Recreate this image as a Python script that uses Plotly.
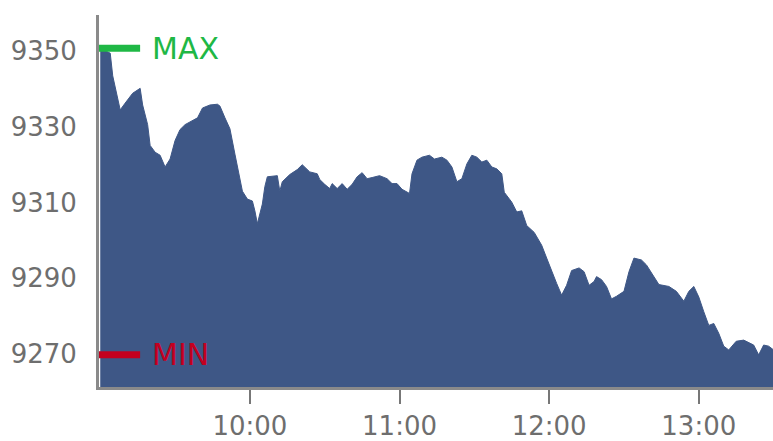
import plotly.graph_objects as go

# Intraday index level
times = [
    "09:00", "09:04", "09:05", "09:07", "09:08", "09:10", "09:13", "09:16", "09:17", "09:19",
    "09:20", "09:22", "09:24", "09:26", "09:28", "09:30", "09:32", "09:34", "09:37", "09:39",
    "09:41", "09:44", "09:47", "09:48", "09:50", "09:52", "09:54", "09:56", "09:57", "09:59",
    "10:01", "10:02", "10:03", "10:05", "10:06", "10:07", "10:11", "10:12", "10:13", "10:16",
    "10:19", "10:21", "10:22", "10:24", "10:27", "10:28", "10:30", "10:32", "10:33", "10:35",
    "10:37", "10:39", "10:41", "10:43", "10:45", "10:47", "10:49", "10:52", "10:55", "10:57",
    "10:59", "11:01", "11:04", "11:05", "11:07", "11:09", "11:12", "11:14", "11:17", "11:19",
    "11:21", "11:23", "11:25", "11:27", "11:29", "11:31", "11:33", "11:35", "11:37", "11:39",
    "11:41", "11:42", "11:45", "11:47", "11:49", "11:51", "11:54", "11:57", "11:59", "12:01",
    "12:03", "12:05", "12:07", "12:09", "12:12", "12:14", "12:16", "12:18", "12:19", "12:21",
    "12:23", "12:25", "12:27", "12:30", "12:32", "12:34", "12:37", "12:39", "12:42", "12:44",
    "12:48", "12:51", "12:54", "12:56", "12:58", "13:00", "13:02", "13:04", "13:06", "13:08",
    "13:10", "13:12", "13:15", "13:18", "13:22", "13:24", "13:26", "13:28", "13:30",
]
levels = [
    9350.8, 9349.5, 9343.5, 9337.6, 9334.5, 9336.3, 9338.9, 9340.2, 9335.8, 9330.6,
    9325.1, 9323.3, 9322.5, 9319.4, 9321.5, 9326.4, 9329.3, 9330.6, 9331.6, 9332.4,
    9335.0, 9335.8, 9336.0, 9335.5, 9332.4, 9329.5, 9322.8, 9316.8, 9313.0, 9310.9,
    9310.4, 9307.8, 9304.4, 9309.6, 9314.2, 9316.8, 9317.1, 9313.0, 9315.5, 9317.4,
    9318.7, 9320.0, 9319.4, 9318.1, 9317.6, 9316.1, 9314.8, 9313.7, 9315.0, 9313.7,
    9315.0, 9313.5, 9314.8, 9316.8, 9317.9, 9316.3, 9316.6, 9317.1, 9316.3, 9315.0,
    9315.0, 9313.5, 9312.4, 9317.6, 9321.2, 9322.0, 9322.5, 9321.5, 9322.0, 9321.2,
    9319.4, 9315.5, 9316.3, 9320.2, 9322.5, 9322.0, 9320.7, 9321.2, 9319.4, 9318.9,
    9317.6, 9312.7, 9310.1, 9307.5, 9307.8, 9303.9, 9302.1, 9298.7, 9295.3, 9291.7,
    9288.6, 9285.5, 9288.1, 9292.0, 9292.7, 9291.7, 9288.1, 9289.1, 9290.4, 9289.6,
    9287.8, 9284.5, 9285.2, 9286.5, 9291.7, 9295.3, 9294.8, 9293.5, 9290.2, 9288.3,
    9287.8, 9286.5, 9283.9, 9286.5, 9287.8, 9285.0, 9281.1, 9277.5, 9278.0, 9275.4,
    9272.0, 9271.0, 9273.3, 9273.6, 9272.3, 9269.7, 9272.3, 9272.0, 9271.0,
]
y_ticks = [9270, 9290, 9310, 9330, 9350]
x_ticks = ["10:00", "11:00", "12:00", "13:00"]

day = "2024-01-02 "
x_vals = [day + t for t in times]

max_level = max(levels)
min_level = min(levels)

fig = go.Figure()
fig.add_trace(
    go.Scatter(
        x=x_vals,
        y=levels,
        mode="lines",
        fill="tozeroy",
        fillcolor="#3e5786",
        line=dict(color="#3e5786", width=1),
        hoverinfo="skip",
    )
)

# MAX / MIN markers
for level, color, label in [
    (max_level, "#1fb845", "MAX"),
    (min_level, "#c3001f", "MIN"),
]:
    fig.add_shape(
        type="line",
        xref="paper",
        yref="y",
        x0=0.0,
        x1=0.061,
        y0=level,
        y1=level,
        line=dict(color=color, width=7),
    )
    fig.add_annotation(
        xref="paper",
        yref="y",
        x=0.076,
        y=level,
        text=label,
        showarrow=False,
        xanchor="left",
        yanchor="middle",
        font=dict(family="DejaVu Sans", size=30, color=color),
    )

fig.update_layout(
    width=773,
    height=441,
    margin=dict(l=99, r=0, t=15, b=46),
    plot_bgcolor="white",
    paper_bgcolor="white",
    showlegend=False,
    font=dict(family="DejaVu Sans", size=26, color="#6e6e6e"),
    xaxis=dict(
        range=[day + "08:59:30", day + "13:29:45"],
        tickvals=[day + t for t in x_ticks],
        ticktext=x_ticks,
        ticks="outside",
        ticklen=14,
        tickwidth=2,
        tickcolor="#777777",
        showline=True,
        linecolor="#8a8a8a",
        linewidth=3,
        showgrid=False,
        zeroline=False,
    ),
    yaxis=dict(
        range=[9261.2, 9359.6],
        tickvals=y_ticks,
        ticks="",
        ticklabelstandoff=14,
        showline=True,
        linecolor="#8a8a8a",
        linewidth=3,
        showgrid=False,
        zeroline=False,
    ),
)

# drop the default page margin so the figure fills the window exactly
fig.write_html(
    "out.html",
    config={"displayModeBar": False},
    post_script="document.body.style.margin='0';document.body.style.overflow='hidden';",
)
